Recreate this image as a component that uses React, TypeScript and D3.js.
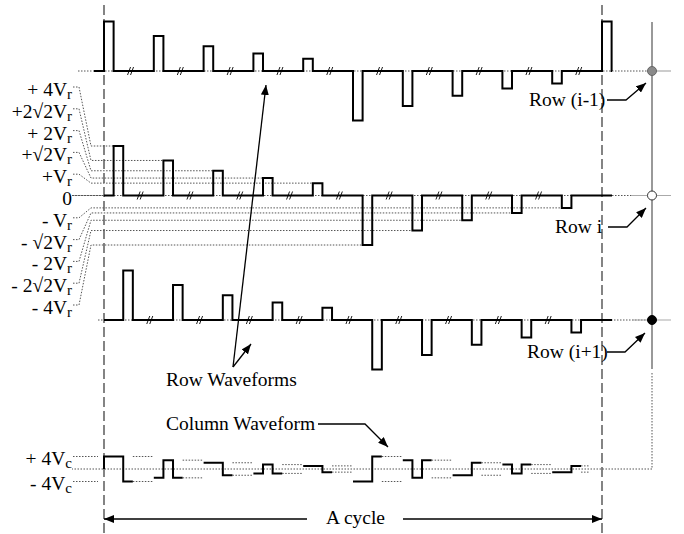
import React from "react";
import * as d3 from "d3";

// row pulse amplitude in each group of the cycle (units of Vr)
const rowPulses = [4, 2.83, 2, 1.41, 1, -4, -2.83, -2, -1.41, -1];
const rowNames = ["Row (i-1)", "Row i", "Row (i+1)"];
const rowSlots = [0, 1, 2];

// column waveform: magnitude (units of Vc) and sign in the three row slots
const colMagnitudes = [4, 2.83, 2, 1.41, 1, 4, 2.83, 2, 1.41, 1];
const colSigns = [
  [1, 1, -1], [-1, 1, -1], [1, 1, -1], [-1, 1, -1], [1, 1, -1],
  [-1, -1, 1], [1, -1, 1], [-1, -1, 1], [1, -1, 1], [-1, -1, 1],
];

// level labels drawn on the left, with the level they point to on Row i
const levelNames = ["+ 4", "+2√2", "+ 2", "+√2", "+", "0", "- ", "- √2", "- 2", "- 2√2", "-  4"];
const levelValues = [4, 2.83, 2, 1.41, 1, 0, -1, -1.41, -2, -2.83, -4];
const colLevelNames = ["+ 4", "-  4"];
const colLevelValues = [4, -4];

const W = 684;
const H = 534;
const FONT = "'Liberation Serif', 'Times New Roman', serif";
const SLOT = 0.193; // width of one row slot in group units

const x = d3.scaleLinear().domain([0, 10]).range([104, 602]);
const rowY = d3.scaleLinear().domain([0, 2]).range([71, 320]);
const amp = d3.scaleLinear().domain([0, 4]).range([0, 49.5]);
const colBase = 469;
const colAmp = d3.scaleLinear().domain([0, 4]).range([0, 12.5]);
const labelY = d3.scalePoint<number>().domain(d3.range(levelNames.length)).range([90, 308]);

const rowPath = (r: number) => {
  const base = rowY(r);
  const slot = rowSlots[r];
  const pulses = rowPulses.map((v, g) => ({ g, v }));
  if (r === 0) pulses.push({ g: 10, v: rowPulses[0] });
  let p = `M${r === 0 ? 94 : x(0)},${base}`;
  pulses.forEach(({ g, v }) => {
    p += `H${x(g + slot * SLOT)}V${base - Math.sign(v) * amp(Math.abs(v))}H${x(g + (slot + 1) * SLOT)}V${base}`;
  });
  p += `H${x(10) + 10}`;
  return p;
};

const colPath = (g: number) => {
  const ys = colSigns[g].map((s) => colBase - s * colAmp(colMagnitudes[g]));
  let p = g === 0 ? `M${x(0)},${colBase}V${ys[0]}` : `M${x(g)},${ys[0]}`;
  p += `H${x(g + SLOT)}V${ys[1]}H${x(g + 2 * SLOT)}V${ys[2]}H${x(g + 3 * SLOT)}`;
  return p;
};

const App = () => {
  const dotted = { stroke: "#555", strokeWidth: 1, strokeDasharray: "1.5,1.5", fill: "none" };
  return (
    <svg width={W} height={H} style={{ position: "absolute", left: 0, top: 0, background: "#fff" }} fontFamily={FONT}>
      <defs>
        <marker id="ah" viewBox="0 0 10 8" refX={10} refY={4} markerWidth={10} markerHeight={8} markerUnits="userSpaceOnUse" orient="auto">
          <path d="M0,0 L10,4 L0,8 z" fill="#000" />
        </marker>
      </defs>

      {/* cycle boundaries */}
      {[0, 10].map((g) => (
        <line key={g} x1={x(g)} x2={x(g)} y1={5} y2={H} stroke="#333" strokeWidth={1.2} strokeDasharray="10,4" />
      ))}

      {/* right side: row lines and column line */}
      <line x1={652} x2={652} y1={22} y2={369} stroke="#555" strokeWidth={1.2} />
      <path d={`M652,373V${colBase}H72`} {...dotted} />

      {/* row baselines */}
      {rowNames.map((n, r) => (
        <g key={n}>
          <line x1={[78, 72, 98][r]} x2={648} y1={rowY(r)} y2={rowY(r)} {...dotted} />
          <line x1={r === 0 ? 652 : 632} x2={671} y1={rowY(r)} y2={rowY(r)} stroke="#aaa" strokeWidth={1.2} />
        </g>
      ))}

      {/* level leader lines */}
      {levelNames.map((n, i) => {
        const v = levelValues[i];
        const ly = labelY(i)! - 3;
        const yl = rowY(1) - Math.sign(v) * amp(Math.abs(v));
        const g = rowPulses.indexOf(v);
        const xe = v === 0 ? x(0) : x(g + SLOT);
        const d = v === 0 ? `M73,${yl}H${xe}` : `M73,${ly}H79L91,${yl}H${xe}`;
        return <path key={n} d={d} {...dotted} />;
      })}
      {colLevelNames.map((n, i) => (
        <line key={n} x1={73} x2={98} y1={colBase - Math.sign(colLevelValues[i]) * colAmp(4)} y2={colBase - Math.sign(colLevelValues[i]) * colAmp(4)} {...dotted} />
      ))}

      {/* row waveforms */}
      {rowNames.map((n, r) => (
        <g key={n}>
          <path d={rowPath(r)} fill="none" stroke="#000" strokeWidth={2} />
          {d3.range(r === 0 ? 10 : 9).map((g) => {
            const xm = x(g + (rowSlots[r] + 1) * SLOT + 0.35);
            const b = rowY(r);
            return (
              <g key={g} stroke="#000" strokeWidth={0.9}>
                <line x1={xm - 3.5} y1={b + 4} x2={xm - 0.5} y2={b - 4} />
                <line x1={xm - 0.5} y1={b + 4} x2={xm + 2.5} y2={b - 4} />
              </g>
            );
          })}
        </g>
      ))}

      {/* column waveform */}
      {colMagnitudes.map((m, g) => {
        const x0 = x(g + 3 * SLOT);
        const x1 = g < 9 ? x(g + 1) - 1 : x(9.76);
        return (
          <g key={g}>
            <line x1={x0} x2={x1} y1={colBase - colAmp(m)} y2={colBase - colAmp(m)} {...dotted} />
            <line x1={x0} x2={x1} y1={colBase + colAmp(m)} y2={colBase + colAmp(m)} {...dotted} />
            <path d={colPath(g)} fill="none" stroke="#000" strokeWidth={2} />
          </g>
        );
      })}

      {/* row nodes */}
      {rowNames.map((n, r) => (
        <circle key={n} cx={652} cy={rowY(r)} r={4.5} fill={["#8a8a8a", "#fff", "#000"][r]} stroke={["#666", "#333", "#000"][r]} strokeWidth={1} />
      ))}

      {/* level labels */}
      {levelNames.map((n, i) => (
        <text key={n} x={72} y={labelY(i)! + 6} textAnchor="end" fontSize={19.5} fill="#000">
          {n === "0" ? (
            <tspan>0</tspan>
          ) : (
            <>
              <tspan>{n}V</tspan>
              <tspan fontSize={15} dy={3}>r</tspan>
            </>
          )}
        </text>
      ))}
      {colLevelNames.map((n, i) => (
        <text key={n} x={72} y={[465, 490][i]} textAnchor="end" fontSize={19.5} fill="#000">
          {n}V<tspan fontSize={15} dy={3}>c</tspan>
        </text>
      ))}

      {/* annotations */}
      <g stroke="#000" strokeWidth={1.3} fill="none">
        <line x1={233} y1={367} x2={266} y2={85} markerEnd="url(#ah)" />
        <line x1={233} y1={367} x2={251} y2={344} markerEnd="url(#ah)" />
        <path d="M318,424H365L388,447" markerEnd="url(#ah)" />
        <path d="M607,100H626L646,83" markerEnd="url(#ah)" />
        <path d="M608,227H627L646,208" markerEnd="url(#ah)" />
        <path d="M607,352H625L645,333" markerEnd="url(#ah)" />
        <line x1={307} y1={519} x2={x(0)} y2={519} markerEnd="url(#ah)" />
        <line x1={403} y1={519} x2={x(10)} y2={519} markerEnd="url(#ah)" />
      </g>
      <g fontSize={19.5} fill="#000">
        <text x={166} y={386}>Row Waveforms</text>
        <text x={166} y={430}>Column Waveform</text>
        <text x={326} y={524}>A cycle</text>
        <text x={529} y={106}>{rowNames[0]}</text>
        <text x={555} y={233}>{rowNames[1]}</text>
        <text x={527} y={358}>{rowNames[2]}</text>
      </g>
    </svg>
  );
};

export default App;
